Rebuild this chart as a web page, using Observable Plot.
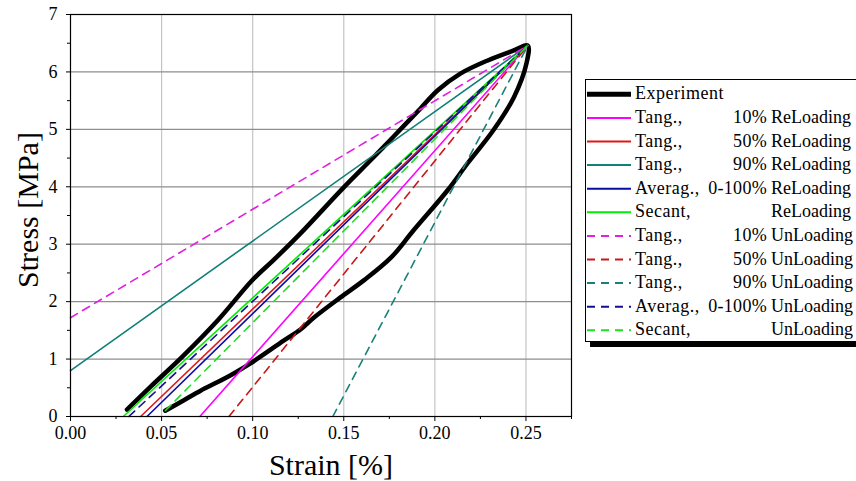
<!DOCTYPE html>
<html><head><meta charset="utf-8">
<script src="https://cdn.jsdelivr.net/npm/d3@7"></script>
<script src="https://cdn.jsdelivr.net/npm/@observablehq/plot@0.6"></script>
<style>
html,body{margin:0;padding:0;background:#fff;overflow:hidden;width:856px;height:481px}
svg text{font-family:"Liberation Serif","Times New Roman","DejaVu Serif",serif !important;}
</style>
</head><body><div id="chart"></div>
<script>
// Experiment loop (strain %, stress MPa): reloading branch up to the peak, then unloading branch down
const expStrain = [0.031, 0.044, 0.062, 0.081, 0.100, 0.112, 0.126, 0.150, 0.165, 0.1775, 0.192, 0.2016, 0.214, 0.229, 0.243, 0.251,
  0.2503, 0.2434, 0.232, 0.218, 0.207, 0.188, 0.176, 0.161, 0.148, 0.1335, 0.1264, 0.117, 0.099, 0.0896, 0.0808, 0.0714, 0.062, 0.052];
const expStress = [0.12, 0.52, 1.06, 1.68, 2.38, 2.74, 3.18, 3.99, 4.47, 4.88, 5.36, 5.68, 5.97, 6.20, 6.37, 6.46,
  6.15, 5.56, 4.98, 4.41, 3.94, 3.23, 2.77, 2.37, 2.07, 1.72, 1.52, 1.32, 0.93, 0.75, 0.60, 0.45, 0.28, 0.10];

// Modulus lines: each runs from a start point to the peak
const seriesNames = ["Tang. 10% ReLoading", "Tang. 50% ReLoading", "Tang. 90% ReLoading", "Averag. 0-100% ReLoading", "Secant ReLoading",
  "Tang. 10% UnLoading", "Tang. 50% UnLoading", "Tang. 90% UnLoading", "Averag. 0-100% UnLoading", "Secant UnLoading"];
const lineStartStrain = [0.071, 0.0385, 0.0, 0.042, 0.029, 0.0, 0.087, 0.144, 0.032, 0.052];
const lineStartStress = [0, 0, 0.80, 0, 0, 1.72, 0, 0, 0, 0.10];
const peakStrain = 0.251;
const peakStress = 6.46;

const xTicks = [0, 0.05, 0.10, 0.15, 0.20, 0.25];
const xMinor = [0.025, 0.075, 0.125, 0.175, 0.225, 0.275];
const yTicks = [0, 1, 2, 3, 4, 5, 6, 7];
const yMinor = [0.5, 1.5, 2.5, 3.5, 4.5, 5.5, 6.5];

const legendLeft = ["Tang.,", "Tang.,", "Tang.,", "Averag.,", "Secant,", "Tang.,", "Tang.,", "Tang.,", "Averag.,", "Secant,"];
const legendMid = ["10%", "50%", "90%", "0-100%", "", "10%", "50%", "90%", "0-100%", ""];
const legendRight = ["ReLoading", "ReLoading", "ReLoading", "ReLoading", "ReLoading", "UnLoading", "UnLoading", "UnLoading", "UnLoading", "UnLoading"];

// styles
const colors = ["#ff00ff", "#e01818", "#108078", "#0a0aa8", "#00ee00", "#e020e0", "#c81818", "#1a8078", "#101090", "#22dd22"];
const dashed = [false, false, false, false, false, true, true, true, true, true];

const expData = expStrain.map((s, i) => ({strain: s, stress: expStress[i]}));
const lineMarks = seriesNames.map((name, i) => {
  const pts = [
    {series: name, strain: lineStartStrain[i], stress: lineStartStress[i]},
    {series: name, strain: peakStrain, stress: peakStress}
  ];
  return Plot.line(pts, {x: "strain", y: "stress", stroke: colors[i], strokeWidth: 1.6,
    strokeDasharray: dashed[i] ? "8,6" : null});
});

const ff = "'Liberation Serif','Times New Roman','DejaVu Serif',serif";
const W = 856, H = 481;
const plot = Plot.plot({
  width: W, height: H,
  marginLeft: 70, marginRight: 285, marginTop: 14, marginBottom: 65,
  style: {fontFamily: ff, fontSize: "18px", color: "black", background: "white"},
  x: {domain: [0, 0.275]},
  y: {domain: [0, 7]},
  marks: [
    Plot.gridX(xTicks.slice(1), {stroke: "#c4c4c4", strokeOpacity: 1, strokeWidth: 1.2}),
    Plot.gridY(yTicks.slice(1, 7), {stroke: "#8e8e8e", strokeOpacity: 1, strokeWidth: 1.2}),
    Plot.line(expData, {x: "strain", y: "stress", stroke: "black", strokeWidth: 4.5, strokeLinejoin: "round", strokeLinecap: "round", curve: "catmull-rom"}),
    ...lineMarks,
    Plot.axisX(xTicks, {tickSize: 5, tickPadding: 5, tickFormat: d3.format(".2f"), fontSize: 18, label: null}),
    Plot.axisX(xMinor, {tickSize: 3, tickFormat: () => "", label: null}),
    Plot.axisY(yTicks, {tickSize: 4, tickPadding: 9, tickFormat: d3.format("d"), fontSize: 18, label: null}),
    Plot.axisY(yMinor, {tickSize: 3, tickFormat: () => "", label: null}),
    Plot.frame({stroke: "black", strokeWidth: 1.2})
  ]
});
document.getElementById("chart").appendChild(plot);

const svg = d3.select(plot);
// axis titles
svg.append("text").attr("x", 331).attr("y", 475).attr("text-anchor", "middle")
  .attr("font-size", 30).attr("fill", "black").text("Strain [%]");
svg.append("text").attr("transform", "translate(38,210) rotate(-90)").attr("text-anchor", "middle")
  .attr("font-size", 30).attr("fill", "black").text("Stress [MPa]");

// legend
const lg = svg.append("g").attr("text-anchor", "start");
lg.append("rect").attr("x", 590).attr("y", 84).attr("width", 300).attr("height", 263).attr("fill", "black");
lg.append("rect").attr("x", 585.5).attr("y", 79.5).attr("width", 300).attr("height", 262).attr("fill", "white").attr("stroke", "black").attr("stroke-width", 1);
const row0 = 99.3, rowStep = 23.6;
lg.append("line").attr("x1", 587).attr("x2", 631).attr("y1", row0 - 5).attr("y2", row0 - 5)
  .attr("stroke", "black").attr("stroke-width", 5);
lg.append("text").attr("x", 635).attr("y", row0).attr("text-anchor", "start").attr("font-size", 18)
  .attr("letter-spacing", 0.5).attr("fill", "black").text("Experiment");
seriesNames.forEach((name, i) => {
  const y = row0 + rowStep * (i + 1);
  lg.append("line").attr("x1", 587).attr("x2", 631).attr("y1", y - 5).attr("y2", y - 5)
    .attr("stroke", colors[i]).attr("stroke-width", 2)
    .attr("stroke-dasharray", dashed[i] ? "8,6" : null);
  lg.append("text").attr("x", 635).attr("y", y).attr("text-anchor", "start").attr("font-size", 18)
    .attr("letter-spacing", 0.5).attr("fill", "black").text(legendLeft[i]);
  if (legendMid[i]) lg.append("text").attr("x", 767).attr("y", y).attr("text-anchor", "end")
    .attr("font-size", 18).attr("letter-spacing", 0.3).attr("fill", "black").text(legendMid[i]);
  lg.append("text").attr("x", 771).attr("y", y).attr("text-anchor", "start").attr("font-size", 18)
    .attr("letter-spacing", 0).attr("fill", "black").text(legendRight[i]);
});
</script></body></html>
